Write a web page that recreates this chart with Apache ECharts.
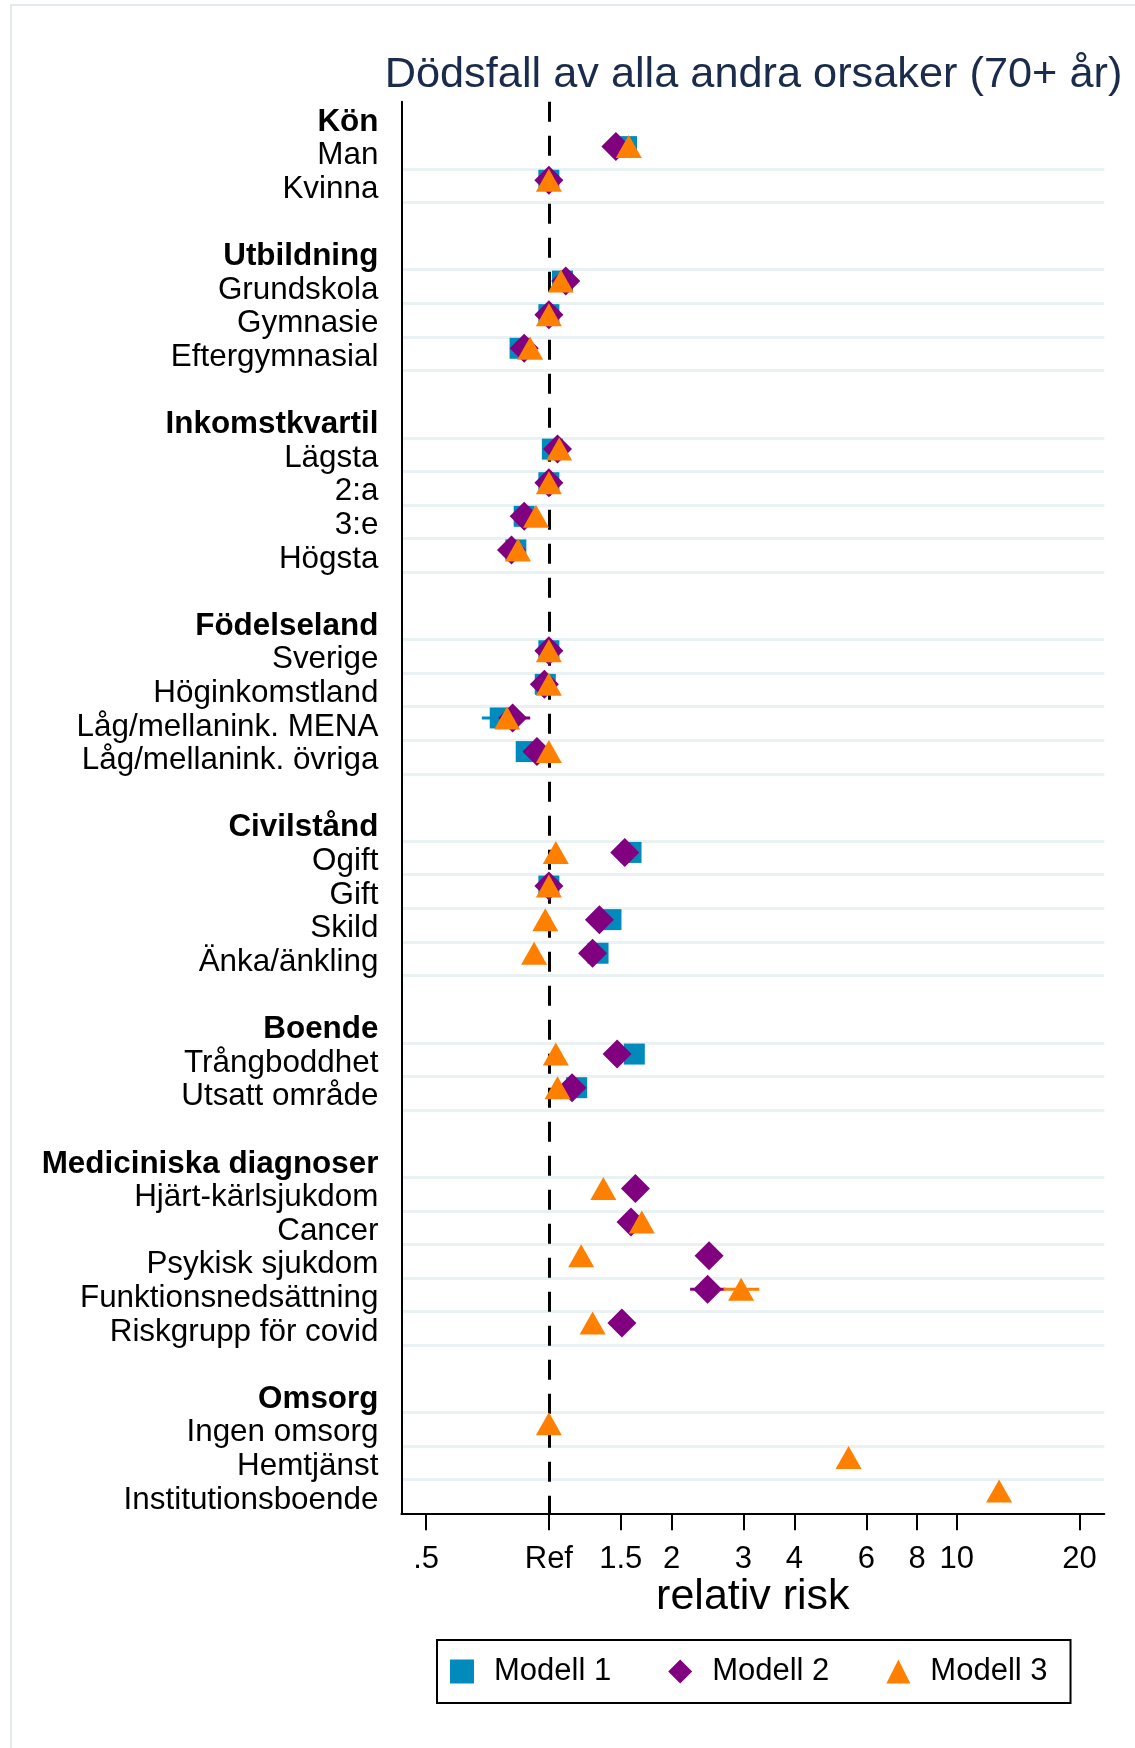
<!DOCTYPE html>
<html><head><meta charset="utf-8">
<script src="https://cdn.jsdelivr.net/npm/echarts@6/dist/echarts.min.js"></script>
<style>html,body{margin:0;padding:0;background:#fff}#c{width:1135px;height:1748px}</style>
</head><body><div id="c"></div>
<script>
// ---- data ----
const groups = ['Kön','Utbildning','Inkomstkvartil','Födelseland','Civilstånd','Boende','Mediciniska diagnoser','Omsorg'];
const groupItems = [
  ['Man','Kvinna'],
  ['Grundskola','Gymnasie','Eftergymnasial'],
  ['Lägsta','2:a','3:e','Högsta'],
  ['Sverige','Höginkomstland','Låg/mellanink. MENA','Låg/mellanink. övriga'],
  ['Ogift','Gift','Skild','Änka/änkling'],
  ['Trångboddhet','Utsatt område'],
  ['Hjärt-kärlsjukdom','Cancer','Psykisk sjukdom','Funktionsnedsättning','Riskgrupp för covid'],
  ['Ingen omsorg','Hemtjänst','Institutionsboende']
];
const seriesNames = ['Modell 1','Modell 2','Modell 3'];
const modell1 = [1.55,1, 1.08,1,0.85, 1.02,1,0.87,0.83, 1,0.98,0.76,0.88, 1.59,1,1.42,1.32, 1.62,1.17, null,null,null,null,null, null,null,null];
const modell2 = [1.46,1, 1.10,1,0.87, 1.05,1,0.87,0.81, 1,0.975,0.815,0.935, 1.535,1,1.33,1.28, 1.47,1.14, 1.63,1.59,2.47,2.45,1.51, null,null,null];
const modell3 = [1.57,1, 1.07,1,0.90, 1.06,1,0.93,0.84, 1,1.0,0.79,1.0, 1.04,1,0.98,0.92, 1.04,1.05, 1.36,1.69,1.20,2.96,1.28, 1,5.43,12.7];
// confidence intervals (only where visible outside the markers)
const ci1Lo = [null,null, null,null,null, null,null,null,null, null,null,0.685,null, null,null,null,null, null,null, null,null,null,null,null, null,null,null];
const ci1Hi = [null,null, null,null,null, null,null,null,null, null,null,0.84,null, null,null,null,null, null,null, null,null,null,null,null, null,null,null];
const ci2Lo = [null,null, null,null,null, null,null,null,null, null,null,0.74,null, null,null,null,null, null,null, null,null,null,2.22,null, null,null,null];
const ci2Hi = [null,null, null,null,null, null,null,null,null, null,null,0.90,null, null,null,null,null, null,null, null,null,null,2.71,null, null,null,null];
const ci3Lo = [null,null, null,null,null, null,null,null,null, null,null,0.72,null, null,null,null,null, null,null, null,null,null,2.68,null, null,null,null];
const ci3Hi = [null,null, null,null,null, null,null,null,null, null,null,0.865,null, null,null,null,null, null,null, null,null,null,3.28,null, null,null,null];
const tickValues = [0.5,1,1.5,2,3,4,6,8,10,20];
const tickLabels = ['.5','Ref','1.5','2','3','4','6','8','10','20'];
const refValue = 1;

// ---- build rows ----
const rows = [], headerFlags = [], itemRow = [];
groups.forEach((g, gi) => {
  rows.push(g); headerFlags.push(true);
  groupItems[gi].forEach(it => { itemRow.push(rows.length); rows.push(it); headerFlags.push(false); });
  if (gi < groups.length - 1) { rows.push(''); headerFlags.push(false); }
});

const FF = '"Liberation Sans", Arial, Helvetica, sans-serif';
const colors = ['#008BBC', '#800080', '#FF8000'];
const symbols = ['rect', 'diamond', 'triangle'];
const sizes = [[21,21],[29,29],[26,23]];
const MARK_DY = -5.5;
const lg = Math.log10;
const tickPos = tickValues.map(lg);
function labelFor(v) {
  for (let i = 0; i < tickPos.length; i++) if (Math.abs(tickPos[i] - v) < 1e-6) return tickLabels[i];
  return '';
}
const modelVals = [modell1, modell2, modell3];
const ciLo = [ci1Lo, ci2Lo, ci3Lo], ciHi = [ci1Hi, ci2Hi, ci3Hi];

const series = [];
modelVals.forEach((vals, m) => {
  const ciData = [];
  ciLo[m].forEach((lo, i) => { if (lo != null) ciData.push([lg(lo), lg(ciHi[m][i]), itemRow[i]]); });
  series.push({
    name: seriesNames[m] + ' CI', type: 'custom', z: 2.5, silent: true,
    encode: { x: [0, 1], y: 2 },
    data: ciData,
    renderItem: (params, api) => {
      const a = api.coord([api.value(0), api.value(2)]);
      const b = api.coord([api.value(1), api.value(2)]);
      return { type: 'line', shape: { x1: a[0], y1: a[1] + MARK_DY, x2: b[0], y2: b[1] + MARK_DY },
        style: { stroke: colors[m], lineWidth: 3 } };
    }
  });
});
modelVals.forEach((vals, m) => {
  const d = [];
  vals.forEach((v, i) => { if (v != null) d.push([lg(v), itemRow[i]]); });
  const s = {
    name: seriesNames[m], type: 'scatter', z: 3, data: d,
    symbol: symbols[m], symbolSize: sizes[m], symbolOffset: [0, MARK_DY],
    itemStyle: { color: colors[m], opacity: 1 },
    emphasis: { disabled: true }, silent: true
  };
  if (m === 0) {
    s.markLine = { silent: true, z: 2, symbol: ['none', 'none'], label: { show: false },
      lineStyle: { color: '#000', type: [20, 14], width: 3 },
      emphasis: { disabled: true },
      data: [{ xAxis: lg(refValue) }] };
  }
  series.push(s);
});

const chart = echarts.init(document.getElementById('c'), null, { renderer: 'canvas' });
chart.setOption({
  animation: false,
  backgroundColor: '#fff',
  title: {
    text: 'Dödsfall av alla andra orsaker (70+ år)', left: 748.5, top: 48.5, textAlign: 'center',
    textStyle: { fontSize: 43.3, fontWeight: 'normal', color: '#1a2b4c', fontFamily: FF }
  },
  graphic: [{ type: 'rect', shape: { x: 11, y: 5, width: 1200, height: 1800 }, silent: true,
    style: { fill: 'none', stroke: '#e3ebef', lineWidth: 2 }, z: -1 }],
  grid: { left: 401.4, top: 101.7, right: 30.7, bottom: 234.7, containLabel: false, outerBoundsMode: 'none' },
  xAxis: {
    type: 'value', min: lg(0.435), max: lg(23), z: 5,
    axisLine: { show: true, onZero: false, lineStyle: { color: '#000', width: 2 } },
    axisTick: { show: true, customValues: tickPos, length: 17, lineStyle: { color: '#000', width: 2 } },
    axisLabel: { customValues: tickPos, formatter: v => labelFor(v), fontSize: 31, color: '#000', margin: 31, fontFamily: FF },
    splitLine: { show: false },
    name: 'relativ risk', nameLocation: 'middle', nameGap: 62, nameMoveOverlap: false,
    nameTextStyle: { fontSize: 43, color: '#000', fontFamily: FF }
  },
  yAxis: {
    type: 'category', data: rows, inverse: true, boundaryGap: true, z: 1,
    axisLine: { show: true, onZero: false, lineStyle: { color: '#000', width: 2 } },
    axisTick: { show: false },
    axisLabel: {
      interval: 0, fontSize: 31.4, color: '#000', margin: 23, fontFamily: FF,
      padding: [7, 0, 0, 0],
      formatter: (v, i) => headerFlags[i] ? '{h|' + v + '}' : v,
      rich: { h: { fontWeight: 'bold', fontSize: 31.4, color: '#000', fontFamily: FF } }
    },
    splitLine: { show: true, interval: (i) => !headerFlags[i], showMinLine: false, showMaxLine: false,
      lineStyle: { color: '#e9f1f3', width: 3 } }
  },
  legend: {
    data: seriesNames, left: 437, top: 1640, orient: 'horizontal',
    itemWidth: 24, itemHeight: 24, itemGap: 57, padding: [16, 23, 16, 13],
    borderColor: '#000', borderWidth: 2, selectedMode: false,
    textStyle: { fontSize: 31, color: '#000', fontFamily: FF, padding: [0, 0, 0, 15] }
  },
  series: series
});
</script>
</body></html>
